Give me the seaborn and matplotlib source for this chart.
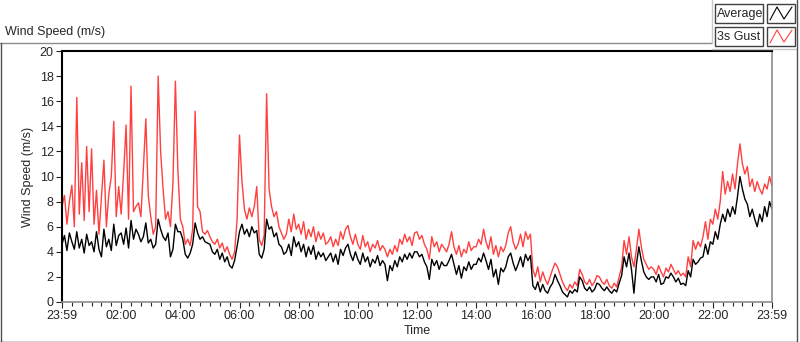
import numpy as np
import pandas as pd
import seaborn as sns
import matplotlib.pyplot as plt
from matplotlib.lines import Line2D
from matplotlib.patches import Rectangle

# 5-minute readings, one row per hour (23:59 -> 23:59)
average = [
    4.6, 5.3, 4.1, 5.5, 4.8, 4.2, 5.6, 4.3, 5.0, 3.9, 5.4, 4.5,
    4.8, 4.0, 5.6, 4.2, 3.6, 5.8, 4.4, 5.0, 4.1, 6.2, 4.5, 5.3,
    5.5, 4.6, 5.9, 4.3, 6.5, 5.0, 5.8, 5.4, 4.8, 5.2, 6.3, 4.7,
    5.0, 4.3, 4.6, 6.6, 5.8, 5.2, 4.9, 5.5, 3.6, 4.2, 6.2, 5.6,
    5.6, 5.0, 3.8, 3.5, 3.9, 4.6, 6.3, 5.5, 5.0, 5.2, 4.8, 4.7,
    4.6, 4.0, 3.8, 4.2, 3.4, 3.9, 3.2, 3.6, 2.9, 2.7, 3.3, 4.4,
    5.6, 6.2, 5.4, 5.8, 5.2, 6.0, 5.5, 5.7, 3.8, 3.5, 4.2, 6.6,
    5.8, 6.0, 5.2, 5.5, 4.6, 4.4, 3.8, 4.0, 4.6, 3.7, 5.2, 4.4,
    4.8, 4.0, 4.6, 3.6, 4.4, 3.8, 4.5, 3.4, 4.0, 3.6, 3.9, 3.3,
    3.6, 3.9, 3.2, 3.8, 3.0, 4.2, 3.7, 4.3, 4.6, 3.8, 3.3, 4.0,
    3.4, 3.0, 3.9, 3.2, 3.6, 2.8, 3.4, 3.1, 3.7, 2.9, 3.3, 3.0,
    1.7, 2.9, 2.5, 3.3, 2.8, 3.6, 3.2, 3.8, 3.4, 3.9, 3.5, 4.0,
    4.0, 3.6, 3.8, 3.2, 2.8, 1.8, 3.4, 2.9, 3.3, 2.6, 3.2, 2.9,
    2.9, 3.3, 3.8, 3.0, 2.2, 2.9, 1.9, 2.8, 2.5, 3.2, 2.6, 3.0,
    3.0, 3.5, 3.2, 3.9, 3.3, 2.6, 3.4, 2.0, 2.6, 1.4, 2.7, 2.4,
    2.8, 3.6, 3.9, 3.1, 2.5, 3.0, 3.6, 2.8, 3.8, 3.3, 3.7, 1.3,
    1.0, 1.6, 0.8, 1.4, 0.9, 0.7, 1.2, 1.5, 2.2, 1.7, 1.3, 0.8,
    0.6, 0.4, 0.9, 0.7, 1.0, 0.8, 2.0, 1.7, 1.1, 0.9, 1.2, 0.8,
    1.0, 1.5, 1.4, 1.1, 0.9, 1.2, 0.9, 0.7, 1.0, 0.8, 1.5, 2.1,
    3.6, 2.8, 3.9, 2.6, 0.7, 3.0, 4.4, 3.3, 2.4, 2.0, 1.8, 2.0,
    2.0, 1.6, 2.2, 1.4, 1.5, 2.0, 1.9, 2.3, 2.0, 1.6, 1.9, 1.4,
    1.5, 1.3, 2.5, 2.0, 3.4, 3.0, 3.2, 3.5, 3.6, 4.6, 3.8, 4.8,
    4.6, 5.6, 5.0, 6.2, 7.0, 6.4, 7.4, 6.8, 7.6, 7.0, 8.4, 10.0,
    9.0, 8.2, 7.8, 6.8, 7.4, 6.6, 6.0, 7.0, 6.4, 7.6, 6.8, 8.0,
    7.4]

gust = [
    7.6, 8.5, 6.2, 8.0, 9.3, 6.0, 16.3, 7.0, 11.1, 6.5, 12.4, 7.2,
    12.2, 6.2, 8.9, 5.4, 8.4, 11.3, 6.0, 8.6, 10.0, 14.4, 6.8, 9.2,
    7.0, 10.3, 14.1, 6.6, 17.2, 7.2, 7.6, 7.9, 6.8, 10.6, 14.6, 8.5,
    6.8, 5.4, 6.0, 18.0, 12.0, 9.0, 6.6, 7.2, 6.0, 9.5, 17.6, 10.5,
    6.6, 6.0, 4.6, 5.0, 4.5, 5.8, 15.2, 7.6, 7.2, 5.6, 5.4, 5.7,
    5.2, 4.8, 4.6, 5.0, 4.3, 4.7, 4.0, 4.4, 3.8, 3.4, 4.0, 6.5,
    13.3, 9.6, 7.4, 6.6, 7.5, 6.8, 7.6, 9.2, 5.0, 4.5, 5.3, 16.6,
    9.0, 7.6, 6.8, 7.2, 6.0, 5.5, 5.0, 5.4, 6.6, 5.6, 7.0, 5.8,
    6.2, 5.4, 6.4, 5.0, 5.8, 5.2, 6.0, 4.8, 5.6, 5.0, 5.5, 4.6,
    4.8, 5.2, 4.4, 5.0, 4.5, 5.6, 5.0, 5.8, 6.1, 5.2, 4.6, 5.4,
    4.6, 4.2, 5.3, 4.4, 4.8, 4.0, 4.6, 4.3, 4.9, 4.1, 4.5, 4.2,
    3.6, 4.2, 3.8, 4.5, 4.0, 5.0, 4.6, 5.4, 4.8, 5.2, 4.5, 5.5,
    5.6, 5.0, 5.3, 4.6, 4.2, 3.4, 5.2, 4.4, 4.8, 4.0, 4.6, 4.3,
    4.0, 4.6, 5.6, 4.4, 3.8, 4.5, 3.6, 4.2, 3.9, 4.8, 4.1, 4.4,
    4.4, 5.0, 4.6, 5.8, 4.8, 4.2, 5.2, 3.8, 4.5, 3.6, 4.4, 4.0,
    4.5, 5.5, 6.0, 4.8, 4.2, 4.6, 5.4, 4.4, 5.6, 5.0, 5.4, 2.6,
    2.0, 2.8, 1.6, 2.4, 1.8, 1.4, 2.0, 2.6, 3.1, 2.8, 2.2, 1.6,
    1.2, 0.9, 1.4, 1.1, 1.6, 1.3, 2.6, 2.2, 1.6, 1.4, 1.8, 1.3,
    1.6, 2.1, 2.0, 1.6, 1.4, 1.8, 1.3, 1.1, 1.5, 1.2, 2.0, 2.8,
    4.9, 3.8, 5.2, 3.6, 2.8, 4.2, 5.8, 4.4, 3.4, 3.0, 2.6, 2.8,
    2.6, 2.2, 2.9, 2.4, 2.0, 2.7, 2.4, 3.0, 2.6, 2.2, 2.5, 2.1,
    2.3, 2.0, 3.6, 2.8, 4.9, 4.2, 4.8, 4.4, 5.2, 6.4, 5.0, 6.6,
    6.2, 7.4, 6.6, 8.0, 10.4, 8.6, 9.6, 8.8, 10.2, 9.0, 11.0, 12.6,
    11.0, 10.2, 10.8, 9.2, 9.8, 8.8, 9.6, 9.0, 8.6, 9.4, 9.0, 10.0,
    9.2]

tick_labels = ["23:59", "02:00", "04:00", "06:00", "08:00", "10:00", "12:00",
               "14:00", "16:00", "18:00", "20:00", "22:00", "23:59"]

minutes = np.arange(len(average)) * 5
df = pd.DataFrame({"Time": minutes, "Average": average, "3s Gust": gust})
long = df.melt("Time", var_name="series", value_name="speed")

sns.set_style("ticks")
plt.rcParams['font.family'] = ['Liberation Sans', 'DejaVu Sans']

W, H = 800, 342
fig = plt.figure(figsize=(8, 3.42), dpi=100)
ax = fig.add_axes([62 / W, 40 / H, 710 / W, 251 / H])

sns.lineplot(data=long, x="Time", y="speed", hue="series",
             hue_order=["3s Gust", "Average"],
             palette={"Average": "black", "3s Gust": "#ff4040"},
             linewidth=1, legend=False, ax=ax)

ax.set_xlim(0, 1440)
ax.set_ylim(0, 20)
ax.set_yticks(range(0, 21, 2))
ax.set_xticks(range(0, 1441, 120))
ax.set_xticklabels(tick_labels)
ax.set_xticks(range(0, 1441, 20), minor=True)
ax.tick_params(axis="both", labelsize=9, length=4, width=0.8, pad=2)
ax.tick_params(axis="x", which="minor", length=3, width=0.8)
ax.set_xlabel("Time", fontsize=9, labelpad=2)
ax.set_ylabel("Wind Speed (m/s)", fontsize=9, labelpad=4)
for side in ["left", "top"]:
    ax.spines[side].set_color("black")
    ax.spines[side].set_linewidth(1.5)
for side in ["bottom", "right"]:
    ax.spines[side].set_color("#8c8c8c")
    ax.spines[side].set_linewidth(1.2)


def fx(px):
    return px / W


def fy(py):
    return 1 - py / H


# panel frame
fig.add_artist(Line2D([fx(0), fx(712)], [fy(43), fy(43)], color="#8c8c8c", lw=1))
fig.add_artist(Line2D([fx(712), fx(797)], [fy(49), fy(49)], color="#c8c8c8", lw=1))
fig.add_artist(Line2D([fx(712), fx(712)], [fy(43), fy(0)], color="#c8c8c8", lw=1))
fig.add_artist(Line2D([fx(797), fx(797)], [fy(0), fy(342)], color="#505050", lw=1))
fig.add_artist(Line2D([fx(0.5), fx(0.5)], [fy(43), fy(342)], color="#505050", lw=1))
fig.add_artist(Line2D([fx(0), fx(797)], [fy(341.5), fy(341.5)], color="#202020", lw=1))

fig.text(fx(5), fy(32), "Wind Speed (m/s)", fontsize=9, va="center", ha="left")

# legend boxes
for top, name, col in [(4, "Average", "black"), (27, "3s Gust", "#ff4040")]:
    fig.add_artist(Rectangle((fx(715), fy(top + 19)), fx(48), 19 / H,
                             fill=False, ec="#404040", lw=1))
    fig.text(fx(717), fy(top + 9.5), name, fontsize=9, va="center", ha="left")
    fig.add_artist(Rectangle((fx(767), fy(top + 19)), fx(28), 19 / H,
                             fill=False, ec="#404040", lw=1))
    zx = [770, 777, 784, 792]
    zy = [top + 16, top + 3, top + 15, top + 3]
    fig.add_artist(Line2D([fx(v) for v in zx], [fy(v) for v in zy], color=col, lw=0.8))

fig.savefig("out.png", dpi=100)
